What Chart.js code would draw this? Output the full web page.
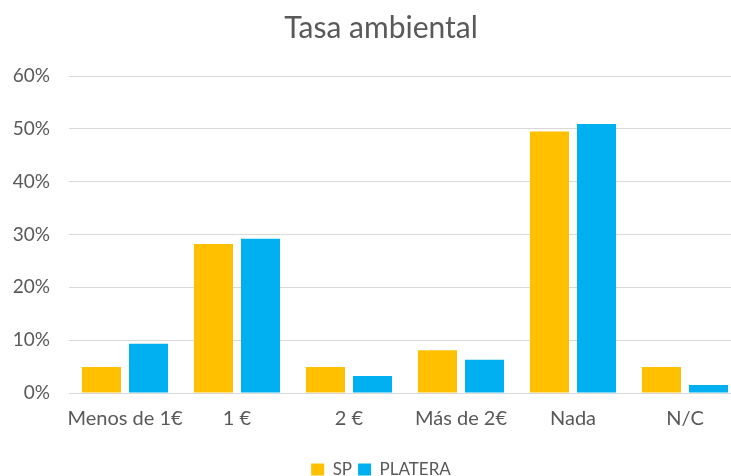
<!DOCTYPE html>
<html>
<head>
<meta charset="utf-8">
<script src="https://cdn.jsdelivr.net/npm/chart.js@4.4.1/dist/chart.umd.min.js"></script>
<style>
  html, body { margin: 0; padding: 0; background: #fff; overflow: hidden; }
  #wrap { width: 762px; height: 488px; }
</style>
</head>
<body>
<div id="wrap"><canvas id="tasaChart" width="762" height="488"></canvas></div>
<script>
  // ── Data ──
  var categories = ['Menos de 1€', '1 €', '2 €', 'Más de 2€', 'Nada', 'N/C'];
  var spValues      = [4.9, 28.2, 4.9, 8.1, 49.5, 4.9];
  var plateraValues = [9.3, 29.2, 3.2, 6.3, 50.9, 1.5];
  var yTicks = [0, 10, 20, 30, 40, 50, 60];

  var gray = '#595959';
  var font = 'Lato, "Open Sans", sans-serif';

  var ctx = document.getElementById('tasaChart').getContext('2d');
  var chart = new Chart(ctx, {
    type: 'bar',
    data: {
      labels: categories,
      datasets: [{
        label: 'SP',
        data: spValues,
        backgroundColor: '#FFC000',
        categoryPercentage: 0.84,
        barPercentage: 0.83
      }, {
        label: 'PLATERA',
        data: plateraValues,
        backgroundColor: '#00B0F0',
        categoryPercentage: 0.84,
        barPercentage: 0.83
      }]
    },
    options: {
      responsive: false,
      animation: false,
      layout: { padding: { top: 6, left: 0, right: 0, bottom: 0 } },
      plugins: {
        title: {
          display: true,
          text: 'Tasa ambiental',
          color: gray,
          font: { family: font, size: 30, weight: 'normal' },
          padding: { top: 4, bottom: 30 }
        },
        legend: {
          position: 'bottom',
          labels: {
            color: gray,
            font: { family: font, size: 17 },
            boxWidth: 13,
            boxHeight: 12,
            padding: 6
          }
        },
        tooltip: { enabled: false }
      },
      scales: {
        x: {
          afterFit: function (axis) { axis.height = 62; },
          grid: { display: false, drawTicks: false },
          border: { color: '#d9d9d9' },
          ticks: {
            color: gray,
            font: { family: font, size: 20 },
            padding: 14,
            autoSkip: false,
            maxRotation: 0
          }
        },
        y: {
          min: 0,
          max: 60,
          afterFit: function (axis) { axis.width = 69; },
          afterBuildTicks: function (axis) {
            axis.ticks = yTicks.map(function (v) { return { value: v }; });
          },
          grid: { color: '#d9d9d9', drawTicks: false },
          border: { display: false },
          ticks: {
            color: gray,
            font: { family: font, size: 19 },
            padding: 19,
            callback: function (v) { return v + '%'; }
          }
        },
        // empty right margin so the title centres like the original
        yRight: {
          position: 'right',
          afterFit: function (axis) { axis.width = 21; },
          grid: { display: false, drawTicks: false },
          border: { display: false },
          ticks: { display: false }
        }
      }
    }
  });
</script>
</body>
</html>
